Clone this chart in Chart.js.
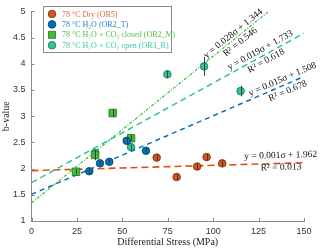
<!DOCTYPE html>
<html><head><meta charset="utf-8">
<script src="https://cdn.jsdelivr.net/npm/chart.js@4.4.1/dist/chart.umd.min.js"></script>
<style>html,body{margin:0;padding:0;background:#fff}#wrap{width:320px;height:250px}</style>
</head><body><div id="wrap"><canvas id="c" width="320" height="250"></canvas></div>
<script>
// ---------- data ----------
const seriesLabels = ['78 °C Dry (OR5)', '78 °C H₂O (OR2_T)', '78 °C H₂O + CO₂ closed (OR2_M)', '78 °C H₂O + CO₂ open (OR3_B)'];
const dryStress = [68.9, 79.9, 91.2, 96.4, 105.0];
const dryB      = [2.21, 1.84, 2.04, 2.22, 2.10];
const dryErr    = [0.06, 0.06, 0.06, 0.06, 0.06];
const h2oStress = [31.8, 37.7, 42.8, 52.4, 63.0];
const h2oB      = [1.95, 2.10, 2.13, 2.53, 2.34];
const h2oErr    = [0.06, 0.05, 0.05, 0.06, 0.05];
const closedStress = [24.5, 35.0, 44.7, 54.8];
const closedB      = [1.94, 2.26, 3.06, 2.58];
const closedErr    = [0.05, 0.10, 0.08, 0.06];
const openStress = [35.0, 54.8, 74.8, 95.0, 115.1];
const openB      = [2.30, 2.41, 3.80, 3.95, 3.48];
const openErr    = [0.05, 0.05, 0.07, 0.18, 0.10];
const fitSlope     = [0.001, 0.015, 0.028, 0.019];
const fitIntercept = [1.962, 1.508, 1.344, 1.733];
const fitR2        = ['0.013', '0.678', '0.546', '0.618'];
const fitRange     = [0, 150];
const xTicks = [0, 25, 50, 75, 100, 125, 150];
const yTicks = [1, 1.5, 2, 2.5, 3, 3.5, 4, 4.5, 5];

// ---------- styles ----------
const colors = ['#D95319', '#0072BD', '#3DBE35', '#2EC696'];
const edges  = ['#6b2a0c', '#003a63', '#2c6e22', '#1c6e55'];
const legendText = ['#E0683A', '#2A80C8', '#4CC444', '#3CCB9E'];
const dashes = [[7, 4], [5, 4], [3, 1.5, 1, 1.5], [6, 4]];
const lineW  = [1.6, 1.5, 1.2, 1.5];
// label anchors (stress value along each fit line) and placement
const labelAnchor = [137.3, 139.5, 112.8, 127.5];
const labelAbove = [8, 6, 5, 6];
const labelBelow = [4, 7, 6, 6];

const pts = (xs, ys) => xs.map((x, i) => ({x, y: ys[i]}));
const errs = [dryErr, h2oErr, closedErr, openErr];
const scat = [pts(dryStress, dryB), pts(h2oStress, h2oB), pts(closedStress, closedB), pts(openStress, openB)];

const datasets = [];
scat.forEach((d, i) => {
  datasets.push({
    type: 'scatter', label: seriesLabels[i], data: d, order: 0,
    pointStyle: i === 2 ? 'rect' : 'circle', pointRadius: i === 2 ? 5.3 : 3.8,
    backgroundColor: colors[i], borderColor: edges[i], borderWidth: 0.8
  });
});
fitSlope.forEach((m, i) => {
  datasets.push({
    type: 'line', label: 'fit' + i, order: 1,
    data: fitRange.map(x => ({x, y: fitIntercept[i] + m * x})),
    borderColor: colors[i], borderWidth: lineW[i], borderDash: dashes[i],
    pointRadius: 0, fill: false, tension: 0
  });
});

const extras = {
  id: 'extras',
  afterDatasetsDraw(chart) {
    const ctx = chart.ctx, xs = chart.scales.x, ys = chart.scales.y;
    ctx.save();
    ctx.strokeStyle = '#3a3a3a'; ctx.lineWidth = 1;
    scat.forEach((d, i) => d.forEach((p, j) => {
      const e = errs[i][j];
      const px = Math.round(xs.getPixelForValue(p.x)) + 0.5;
      ctx.beginPath();
      ctx.moveTo(px, ys.getPixelForValue(p.y - e));
      ctx.lineTo(px, ys.getPixelForValue(p.y + e));
      ctx.stroke();
    }));
    ctx.restore();
  },
  afterDraw(chart) {
    const ctx = chart.ctx, xs = chart.scales.x, ys = chart.scales.y, a = chart.chartArea;
    ctx.save();
    ctx.strokeStyle = '#8a8a8a'; ctx.lineWidth = 1;
    xTicks.forEach(v => {
      const px = Math.round(xs.getPixelForValue(v)) + 0.5;
      ctx.beginPath(); ctx.moveTo(px, a.bottom); ctx.lineTo(px, a.bottom - 3); ctx.stroke();
    });
    yTicks.forEach(v => {
      const py = Math.round(ys.getPixelForValue(v)) + 0.5;
      ctx.beginPath(); ctx.moveTo(a.left, py); ctx.lineTo(a.left + 3, py); ctx.stroke();
    });
    ctx.fillStyle = '#111';
    ctx.font = '9.5px "Liberation Serif", "DejaVu Serif", serif';
    ctx.textAlign = 'center'; ctx.textBaseline = 'middle';
    fitSlope.forEach((m, i) => {
      const x0 = labelAnchor[i], y0 = fitIntercept[i] + m * x0;
      const px = xs.getPixelForValue(x0), py = ys.getPixelForValue(y0);
      const dx = xs.getPixelForValue(x0 + 10) - px;
      const dy = ys.getPixelForValue(y0 + m * 10) - py;
      const ang = Math.atan2(dy, dx);
      ctx.save();
      ctx.translate(px, py); ctx.rotate(ang);
      ctx.fillText('y = ' + m.toFixed(3) + 'σ + ' + fitIntercept[i].toFixed(3), 0, -labelAbove[i]);
      ctx.fillText('R² = ' + fitR2[i], 0, labelBelow[i]);
      ctx.restore();
    });
    const lx = 43.5, ly = 6.5, lw = 128, lh = 46;
    ctx.fillStyle = '#fff'; ctx.fillRect(lx, ly, lw, lh);
    ctx.strokeStyle = '#8a8a8a'; ctx.lineWidth = 1; ctx.strokeRect(lx, ly, lw, lh);
    ctx.font = '8px "Liberation Serif", "DejaVu Serif", serif';
    ctx.textAlign = 'left'; ctx.textBaseline = 'middle';
    seriesLabels.forEach((t, i) => {
      const ry = 14 + i * 10.4, mx = 52;
      ctx.fillStyle = colors[i]; ctx.strokeStyle = edges[i]; ctx.lineWidth = 0.8;
      ctx.beginPath();
      if (i === 2) ctx.rect(mx - 3.5, ry - 3.5, 7, 7); else ctx.arc(mx, ry, 3.8, 0, Math.PI * 2);
      ctx.fill(); ctx.stroke();
      ctx.fillStyle = legendText[i];
      ctx.fillText(t, 62, ry + 0.5);
    });
    ctx.restore();
  }
};

new Chart(document.getElementById('c'), {
  type: 'scatter',
  data: {datasets},
  plugins: [extras],
  options: {
    responsive: false, animation: false, devicePixelRatio: 1,
    layout: {padding: {top: 5.5, right: 16, left: 0, bottom: 0}},
    plugins: {legend: {display: false}, tooltip: {enabled: false}},
    scales: {
      x: {
        type: 'linear', min: 0, max: 150,
        afterBuildTicks: s => { s.ticks = xTicks.map(v => ({value: v})); },
        afterFit: s => { s.height = 29; },
        grid: {display: false, drawTicks: false},
        border: {display: true, color: '#8a8a8a', width: 1},
        ticks: {padding: 5, color: '#333', callback: v => String(v),
          font: {family: '"Liberation Sans", Arial, sans-serif', size: 9}},
        title: {display: true, text: 'Differential Stress (MPa)', color: '#222', padding: {top: 0, bottom: 2},
          font: {family: '"Liberation Serif", "DejaVu Serif", serif', size: 10, lineHeight: 1.2}}
      },
      y: {
        type: 'linear', min: 1, max: 5,
        afterBuildTicks: s => { s.ticks = yTicks.map(v => ({value: v})); },
        afterFit: s => { s.width = 31.5; },
        grid: {display: false, drawTicks: false},
        border: {display: true, color: '#8a8a8a', width: 1},
        ticks: {padding: 6, color: '#333', callback: v => String(v),
          font: {family: '"Liberation Sans", Arial, sans-serif', size: 9}},
        title: {display: true, text: 'b-value', color: '#222', padding: {top: 0, bottom: 0},
          font: {family: '"Liberation Serif", "DejaVu Serif", serif', size: 10, lineHeight: 1.2}}
      }
    }
  }
});
</script></body></html>
